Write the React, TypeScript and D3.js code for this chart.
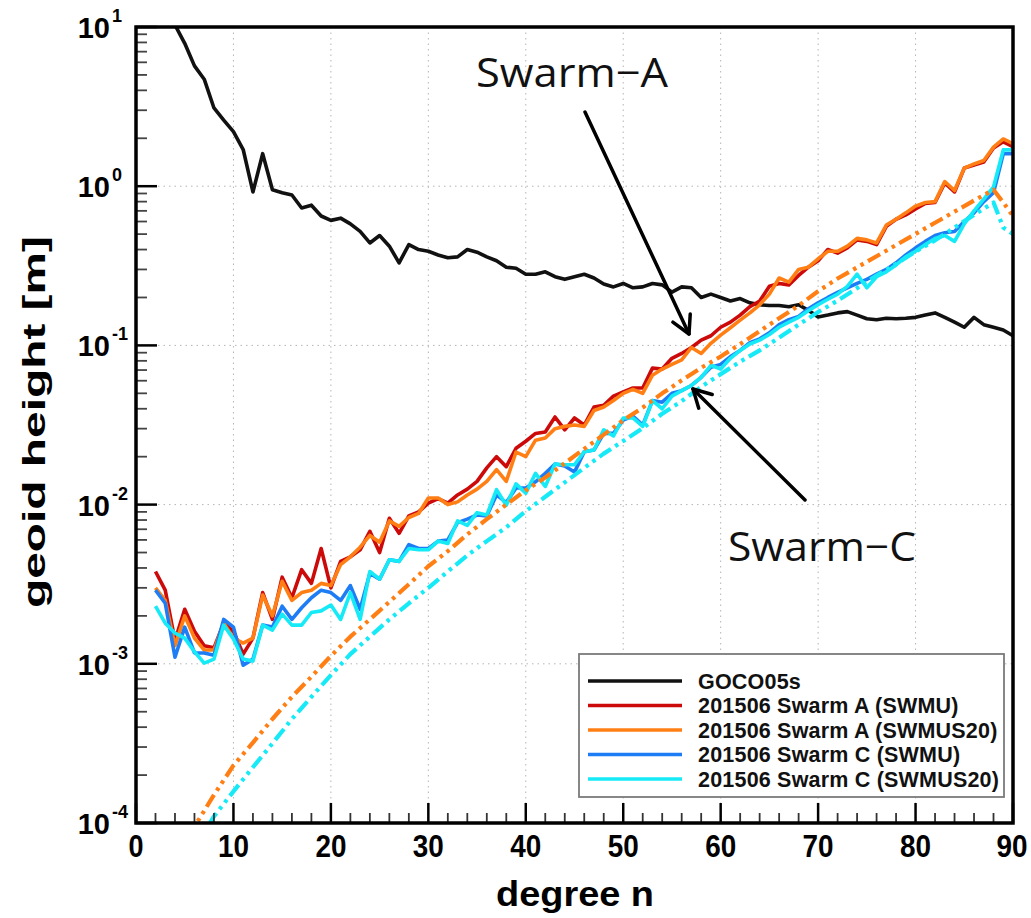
import React from 'react';
import * as d3 from 'd3';

// ---------- data ----------
const degrees = d3.range(2, 91);

const goco05s = [
  30, 14, 10.3, 7.9, 5.7, 4.7, 3.1, 2.6, 2.2, 1.7,
  0.92, 1.6, 0.95, 0.91, 0.88, 0.73, 0.76, 0.65, 0.61, 0.63,
  0.58, 0.52, 0.44, 0.49, 0.42, 0.33, 0.43, 0.40, 0.39, 0.37,
  0.355, 0.36, 0.40, 0.385, 0.36, 0.34, 0.31, 0.305, 0.28, 0.28,
  0.29, 0.27, 0.26, 0.27, 0.28, 0.265, 0.243, 0.233, 0.245, 0.23,
  0.233, 0.245, 0.24, 0.216, 0.233, 0.23, 0.20, 0.21, 0.20, 0.19,
  0.197, 0.185, 0.18, 0.178, 0.178, 0.175, 0.18, 0.166, 0.151, 0.155,
  0.16, 0.163, 0.155, 0.147, 0.145, 0.148, 0.147, 0.148, 0.15, 0.155,
  0.16, 0.15, 0.14, 0.13, 0.15, 0.135, 0.13, 0.125, 0.115,
];

const swarmA_SWMU = [
  0.0038, 0.0029, 0.0014, 0.0022, 0.0016, 0.0013, 0.00126, 0.0018, 0.0016, 0.00115,
  0.00145, 0.0028, 0.0019, 0.0035, 0.0026, 0.0039, 0.0032, 0.0053, 0.0030, 0.0044,
  0.0047, 0.0052, 0.0068, 0.0050, 0.0082, 0.0066, 0.0085, 0.0090, 0.0102, 0.0109,
  0.0102, 0.0115, 0.0125, 0.0140, 0.0170, 0.0200, 0.0173, 0.0226, 0.0250, 0.0280,
  0.0286, 0.0355, 0.0295, 0.0350, 0.0316, 0.0410, 0.0420, 0.0480, 0.0510, 0.0540,
  0.0540, 0.0720, 0.0710, 0.0830, 0.0890, 0.0970, 0.1080, 0.1150, 0.1300, 0.1400,
  0.1550, 0.1750, 0.1900, 0.2350, 0.2450, 0.2400, 0.2750, 0.3100, 0.3400, 0.4000,
  0.3800, 0.4100, 0.4600, 0.4500, 0.4300, 0.5600, 0.6200, 0.6600, 0.7200, 0.7800,
  0.7900, 1.0500, 0.9200, 1.3000, 1.3600, 1.4200, 1.7400, 1.9000, 1.7700,
];

const swarmA_SWMUS20 = [
  0.0030, 0.0025, 0.0013, 0.0020, 0.00145, 0.00122, 0.00122, 0.0018, 0.00145, 0.00135,
  0.00145, 0.0027, 0.0020, 0.0033, 0.0025, 0.0028, 0.0029, 0.0032, 0.0031, 0.0042,
  0.0047, 0.0054, 0.0064, 0.0058, 0.0079, 0.0073, 0.0083, 0.0088, 0.0110, 0.0110,
  0.0100, 0.0104, 0.0115, 0.0125, 0.0140, 0.0166, 0.0140, 0.0214, 0.0200, 0.0254,
  0.0262, 0.0300, 0.0310, 0.0316, 0.0310, 0.0390, 0.0410, 0.0450, 0.0500, 0.0530,
  0.0500, 0.0650, 0.0710, 0.0760, 0.0810, 0.0970, 0.0890, 0.1030, 0.1160, 0.1290,
  0.1440, 0.1600, 0.1800, 0.2100, 0.2650, 0.2500, 0.3000, 0.3100, 0.3500, 0.3900,
  0.3900, 0.4200, 0.4700, 0.4600, 0.4400, 0.5700, 0.6200, 0.6800, 0.7500, 0.7900,
  0.8000, 1.0700, 0.9400, 1.3000, 1.3800, 1.4500, 1.7600, 1.9800, 1.8500,
];

const swarmC_SWMU = [
  0.0029, 0.0024, 0.0011, 0.0017, 0.00117, 0.00117, 0.00113, 0.0019, 0.0017, 0.00098,
  0.00107, 0.00175, 0.0017, 0.0023, 0.0019, 0.00225, 0.0026, 0.0029, 0.0028, 0.0025,
  0.0031, 0.0022, 0.0037, 0.0034, 0.0045, 0.0044, 0.0056, 0.0053, 0.0053, 0.0059,
  0.0060, 0.0077, 0.0081, 0.0086, 0.0085, 0.0115, 0.0103, 0.0127, 0.0127, 0.0139,
  0.0157, 0.0180, 0.0175, 0.0160, 0.0215, 0.0220, 0.0280, 0.0280, 0.0340, 0.0360,
  0.0316, 0.0450, 0.0440, 0.0500, 0.0520, 0.0560, 0.0630, 0.0730, 0.0760, 0.0850,
  0.0930, 0.1040, 0.1100, 0.1200, 0.1350, 0.1450, 0.1520, 0.1700, 0.1850, 0.2000,
  0.2150, 0.2300, 0.2450, 0.2600, 0.2800, 0.3000, 0.3300, 0.3700, 0.4100, 0.4500,
  0.4900, 0.5100, 0.5200, 0.6000, 0.6800, 0.8000, 0.9100, 1.6000, 1.6000,
];

const swarmC_SWMUS20 = [
  0.0023, 0.0018, 0.00156, 0.00145, 0.00119, 0.00101, 0.00107, 0.00175, 0.00143, 0.00107,
  0.00104, 0.00175, 0.00163, 0.00205, 0.00175, 0.00175, 0.0021, 0.00215, 0.00234, 0.0019,
  0.0028, 0.0019, 0.0038, 0.0034, 0.0045, 0.0044, 0.0053, 0.0052, 0.0052, 0.0059,
  0.0057, 0.0079, 0.0074, 0.0089, 0.0086, 0.0124, 0.0099, 0.0135, 0.0118, 0.0157,
  0.0130, 0.0180, 0.0178, 0.0178, 0.0215, 0.0220, 0.0295, 0.0270, 0.0350, 0.0350,
  0.0310, 0.0450, 0.0400, 0.0480, 0.0520, 0.0560, 0.0630, 0.0750, 0.0710, 0.0830,
  0.0930, 0.1020, 0.1080, 0.1170, 0.1300, 0.1400, 0.1500, 0.1650, 0.1800, 0.1950,
  0.2100, 0.2350, 0.2800, 0.2300, 0.2700, 0.2900, 0.3200, 0.3600, 0.3900, 0.4300,
  0.4700, 0.4900, 0.4500, 0.5800, 0.7000, 0.8300, 0.9900, 1.6900, 1.6900,
];

const errDegrees = [
  2, 4, 6, 8, 10, 12, 14, 16, 18, 20, 22, 24, 26, 28, 30, 32, 34, 36, 38, 40,
  42, 44, 46, 48, 50, 52, 54, 56, 58, 60, 62, 64, 66, 68, 70, 72, 74, 76, 78, 80,
  82, 84, 86, 88, 89, 90,
];
const swarmA_formal = [
  3.2e-5, 5.6e-5, 9.5e-5, 1.5e-4, 2.3e-4, 3.2e-4, 4.5e-4, 6.2e-4, 8.3e-4, 1.12e-3,
  1.48e-3, 1.9e-3, 2.45e-3, 3.16e-3, 4.1e-3, 5.1e-3, 6.5e-3, 8.1e-3, 0.0100, 0.0123,
  0.0148, 0.0182, 0.0224, 0.0275, 0.0339, 0.0407, 0.0500, 0.0603, 0.0724, 0.0851,
  0.102, 0.123, 0.148, 0.178, 0.219, 0.263, 0.309, 0.363, 0.427, 0.501,
  0.589, 0.692, 0.813, 0.95, 0.79, 0.65,
];
const swarmC_formal = [
  2.5e-5, 4.2e-5, 6.9e-5, 1.1e-4, 1.58e-4, 2.24e-4, 3.16e-4, 4.5e-4, 6.2e-4, 8.5e-4,
  1.15e-3, 1.48e-3, 1.9e-3, 2.4e-3, 3.0e-3, 3.8e-3, 4.8e-3, 5.9e-3, 7.2e-3, 9.1e-3,
  0.0112, 0.0138, 0.0170, 0.0209, 0.0251, 0.0302, 0.0372, 0.0447, 0.0550, 0.0660,
  0.079, 0.093, 0.112, 0.135, 0.162, 0.191, 0.229, 0.275, 0.324, 0.389,
  0.457, 0.55, 0.66, 0.79, 0.55, 0.50,
];

const xTicks = [0, 10, 20, 30, 40, 50, 60, 70, 80, 90];
const yExponents = [-4, -3, -2, -1, 0, 1];

const legendLabels = [
  'GOCO05s',
  '201506 Swarm A (SWMU)',
  '201506 Swarm A (SWMUS20)',
  '201506 Swarm C (SWMU)',
  '201506 Swarm C (SWMUS20)',
];

// ---------- styling ----------
const COLORS = {
  black: '#111111',
  red: '#cc0a0a',
  orange: '#ff7f14',
  blue: '#1e7df5',
  cyan: '#16eaf7',
};
const W = 1031;
const H = 918;
const L = 136, R = 1013, T = 27, B = 823;
const AXIS_FONT = '"Liberation Sans", Arial, Helvetica, sans-serif';

export default function App() {
  const x = d3.scaleLinear().domain([0, 90]).range([L, R]);
  const y = d3.scaleLog().domain([1e-4, 10]).range([B, T]);

  const line = d3
    .line<[number, number]>()
    .x((d) => x(d[0]))
    .y((d) => y(d[1]));

  const pairs = (xs: number[], vs: number[]) =>
    xs.map((n, i) => [n, vs[i]] as [number, number]);

  const solid = [
    { vals: goco05s, color: COLORS.black },
    { vals: swarmA_SWMU, color: COLORS.red },
    { vals: swarmA_SWMUS20, color: COLORS.orange },
    { vals: swarmC_SWMU, color: COLORS.blue },
    { vals: swarmC_SWMUS20, color: COLORS.cyan },
  ];
  const dashed = [
    { vals: swarmA_formal, color: COLORS.orange },
    { vals: swarmC_formal, color: COLORS.cyan },
  ];
  const legendColors = [COLORS.black, COLORS.red, COLORS.orange, COLORS.blue, COLORS.cyan];

  const xMinor = d3.range(0, 91, 2).filter((v) => v % 10 !== 0);
  const yMinor: number[] = [];
  for (let e = -4; e < 1; e++) for (let k = 2; k <= 9; k++) yMinor.push(k * Math.pow(10, e));

  const arrow = (x1: number, y1: number, x2: number, y2: number) => {
    const ang = Math.atan2(y2 - y1, x2 - x1);
    const len = 20;
    const a1 = ang + Math.PI - 0.5;
    const a2 = ang + Math.PI + 0.5;
    return (
      <g stroke="#000" strokeWidth={3.5} fill="none" strokeLinecap="round" strokeLinejoin="round">
        <line x1={x1} y1={y1} x2={x2} y2={y2} />
        <path
          d={`M${x2 + len * Math.cos(a1)},${y2 + len * Math.sin(a1)}L${x2},${y2}L${
            x2 + len * Math.cos(a2)
          },${y2 + len * Math.sin(a2)}`}
        />
      </g>
    );
  };

  return (
    <svg
      width={W}
      height={H}
      style={{ position: 'absolute', left: 0, top: 0, background: '#fff' }}
      fontFamily={AXIS_FONT}
    >
      <defs>
        <clipPath id="plotClip">
          <rect x={L} y={T} width={R - L} height={B - T} />
        </clipPath>
      </defs>
      <rect x={0} y={0} width={W} height={H} fill="#fff" />

      {/* grid */}
      <g stroke="#b5b5b5" strokeWidth={1} strokeDasharray="1.5 4">
        {xTicks
          .filter((v) => v > 0 && v < 90)
          .map((v) => (
            <line key={'gx' + v} x1={x(v)} x2={x(v)} y1={T} y2={B} />
          ))}
        {yExponents
          .filter((e) => e > -4 && e < 1)
          .map((e) => (
            <line key={'gy' + e} x1={L} x2={R} y1={y(Math.pow(10, e))} y2={y(Math.pow(10, e))} />
          ))}
      </g>

      {/* series */}
      <g clipPath="url(#plotClip)" fill="none" strokeLinejoin="round">
        {solid.map((s, i) => (
          <path key={'s' + i} d={line(pairs(degrees, s.vals)) || ''} stroke={s.color} strokeWidth={3.6} />
        ))}
        {dashed.map((s, i) => (
          <path
            key={'d' + i}
            d={line(pairs(errDegrees, s.vals)) || ''}
            stroke={s.color}
            strokeWidth={4.2}
            strokeDasharray="14 5 3.5 5 3.5 5"
          />
        ))}
      </g>

      {/* ticks */}
      <g stroke="#000" strokeWidth={2.5}>
        {xTicks.map((v) => (
          <line key={'xt' + v} x1={x(v)} x2={x(v)} y1={B} y2={B - 20} />
        ))}
        {xMinor.map((v) => (
          <line key={'xm' + v} x1={x(v)} x2={x(v)} y1={B} y2={B - 10} strokeWidth={1.8} stroke="#333" />
        ))}
        {yExponents.map((e) => (
          <line key={'yt' + e} x1={L} x2={L + 21} y1={y(Math.pow(10, e))} y2={y(Math.pow(10, e))} />
        ))}
        {yMinor.map((v, i) => (
          <line key={'ym' + i} x1={L} x2={L + 11} y1={y(v)} y2={y(v)} strokeWidth={1.8} stroke="#444" />
        ))}
      </g>

      {/* frame */}
      <rect x={L} y={T} width={R - L} height={B - T} fill="none" stroke="#000" strokeWidth={3.5} />

      {/* x tick labels */}
      <g fontWeight="bold" fontSize={32} textAnchor="middle" fill="#000">
        {xTicks.map((v) => (
          <text
            key={'xl' + v}
            x={v === 90 ? x(v) - 1 : x(v)}
            y={857}
            textLength={v === 0 ? 15 : 31}
            lengthAdjust="spacingAndGlyphs"
          >
            {v}
          </text>
        ))}
      </g>

      {/* y tick labels */}
      <g fontWeight="bold" fill="#000">
        {yExponents.map((e) => (
          <text key={'yl' + e} x={110} y={y(Math.pow(10, e)) + 11} textAnchor="end" fontSize={29}>
            10
          </text>
        ))}
        {yExponents.map((e) => (
          <text key={'ye' + e} x={112} y={y(Math.pow(10, e)) - 5} textAnchor="start" fontSize={18}>
            {e}
          </text>
        ))}
      </g>

      {/* axis titles */}
      <text
        x={575}
        y={906}
        textAnchor="middle"
        fontWeight="bold"
        fontSize={35}
        textLength={158}
        lengthAdjust="spacingAndGlyphs"
      >
        degree n
      </text>
      <text
        transform="translate(45,422) rotate(-90)"
        textAnchor="middle"
        fontWeight="bold"
        fontSize={32}
        textLength={372}
        lengthAdjust="spacingAndGlyphs"
      >
        geoid height [m]
      </text>

      {/* legend */}
      <g>
        <rect x={579} y={654} width={425} height={143} fill="#fff" stroke="#7a7a7a" strokeWidth={1.8} />
        {legendLabels.map((lab, i) => {
          const cy = 681 + i * 24.5;
          return (
            <g key={'lg' + i}>
              <line x1={588} x2={682} y1={cy} y2={cy} stroke={legendColors[i]} strokeWidth={3.5} />
              <text x={698} y={cy + 7.5} fontSize={21.5} fontWeight="bold" fill="#111" letterSpacing={0.2}>
                {lab}
              </text>
            </g>
          );
        })}
      </g>

      {/* annotations */}
      <text
        x={476}
        y={87}
        fontFamily='"Open Sans", "DejaVu Sans", sans-serif'
        fontSize={40}
        fill="#111"
        textLength={192}
        lengthAdjust="spacingAndGlyphs"
      >
        Swarm−A
      </text>
      <text
        x={728}
        y={561}
        fontFamily='"Open Sans", "DejaVu Sans", sans-serif'
        fontSize={40}
        fill="#111"
        textLength={188}
        lengthAdjust="spacingAndGlyphs"
      >
        Swarm−C
      </text>
      {arrow(585, 112, 689, 334)}
      {arrow(805, 500, 693, 389)}
    </svg>
  );
}
